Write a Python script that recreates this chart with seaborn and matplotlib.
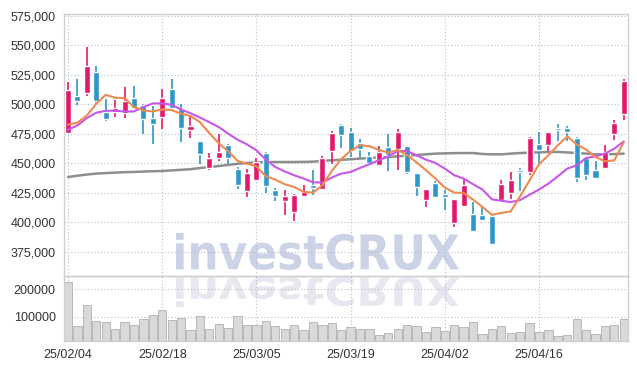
import pandas as pd
import matplotlib
matplotlib.use('Agg')
import matplotlib.pyplot as plt
import seaborn as sns
from matplotlib.textpath import TextPath
from matplotlib.patches import PathPatch
from matplotlib.font_manager import FontProperties
from matplotlib.transforms import Affine2D

# daily OHLC (won)
opens = [475600, 506600, 509700, 527100, 493100, 493100, 492500, 504900, 499200, 488000,
         489100, 513300, 496200, 478100, 468600, 446100, 454500, 465200, 445000, 426600,
         435900, 458700, 427200, 418200, 408900, 422100, 431400, 428600, 460400, 482400,
         476200, 466900, 456500, 448600, 463500, 462100, 464400, 441800, 418800, 433100,
         423800, 399600, 413700, 406900, 406600, 405800, 419300, 425000, 444700, 442600,
         466000, 465800, 480100, 479600, 471100, 454800, 444100, 446100, 475100, 492000]
highs = [518500, 521200, 548500, 532800, 504300, 503800, 515000, 515600, 499800, 498700,
         513100, 521200, 500400, 489700, 468600, 459000, 474800, 466000, 446900, 445200,
         454500, 459300, 429200, 427200, 424000, 431400, 444700, 455900, 477500, 483500,
         479600, 470300, 459300, 464400, 474800, 479300, 464400, 441800, 428100, 434800,
         427200, 420200, 437100, 417300, 412600, 405800, 436200, 442600, 446100, 472200,
         476200, 476200, 483500, 481200, 472200, 454800, 451900, 465400, 486300, 521200]
lows = [475000, 499600, 506600, 500400, 485700, 489100, 488600, 495600, 475100, 466000,
        479300, 494000, 468000, 471700, 449700, 444700, 451700, 449700, 428300, 421900,
        435600, 424900, 418200, 406300, 401500, 422100, 423000, 427800, 449200, 462700,
        455000, 454300, 448300, 448000, 443100, 444700, 441300, 422700, 413100, 421000,
        410300, 395700, 413700, 392000, 401800, 380700, 418700, 420200, 426600, 440500,
        450300, 460100, 468600, 469200, 434200, 435600, 437600, 446100, 470000, 486900]
closes = [511700, 502600, 532800, 502600, 487400, 496500, 502600, 497000, 487400, 483000,
          505700, 496700, 479900, 481200, 457900, 454800, 459300, 454500, 432000, 441600,
          450800, 430600, 422100, 422100, 423000, 425500, 429200, 454300, 475300, 473900,
          460400, 462400, 450200, 459300, 457300, 476200, 442400, 430000, 428100, 421300,
          421300, 419600, 431400, 392800, 401800, 381600, 432300, 435600, 443000, 471100,
          461000, 476200, 477900, 476200, 437600, 439900, 437600, 459300, 484300, 520100]
volumes = [225000, 66000, 143000, 84000, 81000, 55000, 80000, 70000, 92000, 106000,
           124000, 88000, 95000, 52000, 102000, 55000, 73000, 59000, 102000, 70000,
           70000, 84000, 66000, 55000, 70000, 52000, 81000, 70000, 77000, 52000,
           62000, 55000, 55000, 33000, 40000, 55000, 70000, 66000, 44000, 62000,
           48000, 70000, 62000, 81000, 37000, 55000, 66000, 40000, 44000, 77000,
           44000, 52000, 30000, 33000, 92000, 52000, 37000, 66000, 70000, 92000]
# moving averages
ma_short = [482700, 484400, 490500, 500400, 508000, 505500, 505200, 497600, 494800, 493900,
            495600, 495000, 492000, 490000, 484900, 475600, 467100, 460100, 452000, 449700,
            447500, 439000, 436200, 432300, 430000, 425800, 425200, 431400, 443500, 453500,
            460700, 465300, 464500, 461300, 459000, 461300, 457000, 450800, 444100, 437100,
            429500, 425200, 424900, 419300, 413100, 406400, 408000, 409300, 422100, 435600,
            449200, 456800, 465200, 472800, 466000, 461600, 455400, 451700, 452500, 468000]
ma_mid = [478400, 482100, 488300, 492800, 494500, 494500, 493900, 493900, 497600, 500700,
          500700, 499600, 495500, 492400, 488800, 484800, 480700, 475100, 470000, 466000,
          461000, 453100, 446900, 443100, 439900, 437100, 434000, 433700, 437900, 441300,
          442700, 446100, 449200, 452500, 455900, 460400, 460400, 456800, 453100, 450300,
          445500, 439900, 437100, 432300, 427800, 419500, 418300, 417200, 418900, 423400,
          427800, 432800, 439000, 445500, 448300, 454500, 455900, 458200, 462400, 468600]
ma_long = [438400, 439500, 440500, 441300, 441700, 442100, 442500, 442700, 443000, 443300,
           443500, 444000, 444500, 445000, 446000, 446800, 447700, 448600, 449600, 450300,
           450800, 451100, 451100, 451100, 451100, 451200, 451400, 452000, 452600, 453000,
           453400, 454000, 454500, 454800, 455300, 455900, 456400, 457000, 457600, 458200,
           458400, 458600, 458700, 458700, 457900, 457600, 457600, 458200, 458700, 459000,
           459300, 459600, 459600, 459200, 458700, 458200, 457600, 457600, 457800, 458200]
date_ticks = [0, 10, 20, 30, 40, 50]
date_labels = ['25/02/04', '25/02/18', '25/03/05', '25/03/19', '25/04/02', '25/04/16']
price_ticks = [375000, 400000, 425000, 450000, 475000, 500000, 525000, 550000, 575000]
volume_ticks = [100000, 200000]

df = pd.DataFrame({'open': opens, 'high': highs, 'low': lows, 'close': closes,
                   'volume': volumes, 'ma5': ma_short, 'ma20': ma_mid, 'ma120': ma_long})
df['x'] = range(len(df))
up_color = '#e2196a'
down_color = '#2e96c9'
df['color'] = [up_color if c >= o else down_color for o, c in zip(df['open'], df['close'])]

sns.set_style('white')
plt.rcParams['font.family'] = ['Liberation Sans', 'DejaVu Sans']

W, H = 637, 370
fig = plt.figure(figsize=(W / 100, H / 100), dpi=100, facecolor='white')
ax = fig.add_axes([64 / W, 1 - 276 / H, 564 / W, 262 / H])
ax2 = fig.add_axes([64 / W, 1 - 341 / H, 564 / W, 65 / H])
for a in (ax, ax2):
    a.set_zorder(1)
    a.patch.set_visible(False)

# watermark + reflection
fp = FontProperties(family='DejaVu Sans', weight='bold')
tp = TextPath((0, 0), 'investCRUX', size=100, prop=fp)
bb = tp.get_extents()
sx = (459 - 176) / bb.width
to_fig = Affine2D().scale(1 / W, 1 / H)
tr = Affine2D().translate(-bb.x0, -bb.y0).scale(sx, 37 / bb.height).translate(176, H - 270)
fig.patches.append(PathPatch(tr.transform_path(tp), transform=fig.transFigure + Affine2D(),
                             facecolor='#cdd3e6', edgecolor='none', zorder=0.5))
fig.patches[-1].set_transform(to_fig + fig.transFigure)
tr2 = Affine2D().translate(-bb.x0, -bb.y0).scale(sx, -30 / bb.height).translate(176, H - 277)
fig.patches.append(PathPatch(tr2.transform_path(tp), facecolor='#e6e7ef', edgecolor='none',
                             zorder=0.5))
fig.patches[-1].set_transform(to_fig + fig.transFigure)

# candles
ax.vlines(df['x'], df['low'], df['high'], colors=df['color'], lw=1.2, zorder=3)
body_lo = df[['open', 'close']].min(axis=1)
body_h = (df['close'] - df['open']).abs().clip(lower=800)
ax.bar(df['x'], body_h, bottom=body_lo, width=0.64, color=df['color'], zorder=4)

sns.lineplot(data=df, x='x', y='ma120', ax=ax, color='#7a7a7a', lw=1.8, alpha=0.85, zorder=2)
sns.lineplot(data=df, x='x', y='ma20', ax=ax, color='#c856ea', lw=1.5, zorder=5)
sns.lineplot(data=df, x='x', y='ma5', ax=ax, color='#ee8a4e', lw=1.5, zorder=6)

ax.set_xlim(-0.43, 59.45)
ax.set_ylim(354600, 576400)
ax.set_yticks(price_ticks)
ax.set_yticklabels([f'{v:,}' for v in price_ticks])
ax.set_xticks(date_ticks)
ax.tick_params(labelbottom=False, length=0, pad=6, labelsize=9, colors='#333333')
ax.set_xlabel('')
ax.set_ylabel('')
ax.grid(True, ls=(0, (1, 2)), color='#b9bdd2', lw=0.8, zorder=0)

# volume
sns.barplot(data=df, x='x', y='volume', ax=ax2, color='#d9d9d9', width=0.88,
            edgecolor='#b8b8b8', linewidth=0.7, saturation=1, zorder=2)
ax2.set_xlim(-0.43, 59.45)
ax2.set_ylim(11000, 248500)
ax2.set_yticks(volume_ticks)
ax2.set_yticklabels([str(v) for v in volume_ticks])
ax2.set_xticks(date_ticks)
ax2.set_xticklabels(date_labels)
ax2.tick_params(length=0, pad=6, labelsize=9, colors='#333333')
ax2.set_xlabel('')
ax2.set_ylabel('')
ax2.grid(True, ls=(0, (1, 2)), color='#b9bdd2', lw=0.8, zorder=0)

for a in (ax, ax2):
    for s in a.spines.values():
        s.set_color('#cfcfcf')
        s.set_linewidth(1)

fig.savefig('out.png', dpi=100, facecolor='white')
